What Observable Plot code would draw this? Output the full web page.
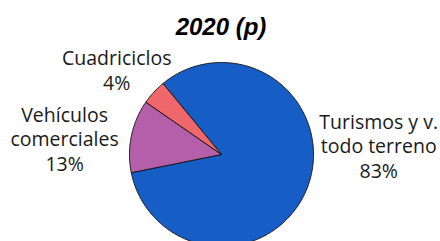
<!DOCTYPE html>
<html>
<head>
<meta charset="utf-8">
<script src="https://cdn.jsdelivr.net/npm/d3@7"></script>
<script src="https://cdn.jsdelivr.net/npm/@observablehq/plot@0.6"></script>
<style>
  html, body { margin: 0; padding: 0; background: #fff; }
  #title { box-sizing: border-box; height: 40px; padding-top: 13px; line-height: 23px;
           font: italic bold 24px "Liberation Sans", Arial, sans-serif; text-align: center;
           width: 440px; padding-left: 2px; color: #000; }
</style>
</head>
<body>
<div id="title">2020 (p)</div>
<div id="chart"></div>
<script>
const categories = ["Turismos y v. todo terreno", "Vehículos comerciales", "Cuadriciclos"];
const labelLines = [["Turismos y v.", "todo terreno"], ["Vehículos", "comerciales"], ["Cuadriciclos"]];
const values = [82.8, 12.8, 4.4];
const colors = ["#175dc6", "#b55ea9", "#f0676b"];

const W = 440, H = 201;
const cx = 221, cy = 114, R = 92;
const startAngle = -39.5 * Math.PI / 180;

const pie = d3.pie().sort(null).value(d => d.value)
  .startAngle(startAngle).endAngle(startAngle + 2 * Math.PI);
const slices = pie(categories.map((c, i) => ({cat: c, value: values[i], lines: labelLines[i]})));

// polygon points for each slice (unit radius, y up)
const pts = [];
for (const s of slices) {
  const n = Math.max(2, Math.ceil((s.endAngle - s.startAngle) / (Math.PI / 180)));
  pts.push({cat: s.data.cat, x: 0, y: 0});
  for (let k = 0; k <= n; k++) {
    const a = s.startAngle + (s.endAngle - s.startAngle) * k / n;
    pts.push({cat: s.data.cat, x: Math.sin(a), y: Math.cos(a)});
  }
  pts.push({cat: s.data.cat, x: 0, y: 0});
}

const anchors = slices.map(s => {
  const m = (s.startAngle + s.endAngle) / 2;
  return {cat: s.data.cat, x: Math.sin(m), y: Math.cos(m),
          text: s.data.lines.concat([Math.round(s.data.value) + "%"]).join("\n")};
});
const offsets = [[70.5, -39.7], [-66.8, 2.5], [-37, -22.9]];

const plot = Plot.plot({
  width: W, height: H,
  margin: 0,
  x: {domain: [-cx / R, (W - cx) / R], axis: null},
  y: {domain: [-(H - cy) / R, cy / R], axis: null},
  color: {domain: categories, range: colors},
  style: {background: "#fff"},
  marks: [
    ...slices.map((s, i) => Plot.line(pts.filter(p => p.cat === s.data.cat), {
      x: "x", y: "y", fill: colors[i], stroke: "#1a1a1a", strokeWidth: 1, strokeLinejoin: "round"
    })),
    ...anchors.map((a, i) => Plot.text([a], {
      x: "x", y: "y", text: "text", dx: offsets[i][0], dy: offsets[i][1],
      textAnchor: "middle", lineAnchor: "middle", lineHeight: 1.26,
      fontSize: 19.5, fontFamily: "'Open Sans', sans-serif", fill: "#1a1a1a"
    }))
  ]
});
document.getElementById("chart").appendChild(plot);
</script>
</body>
</html>
